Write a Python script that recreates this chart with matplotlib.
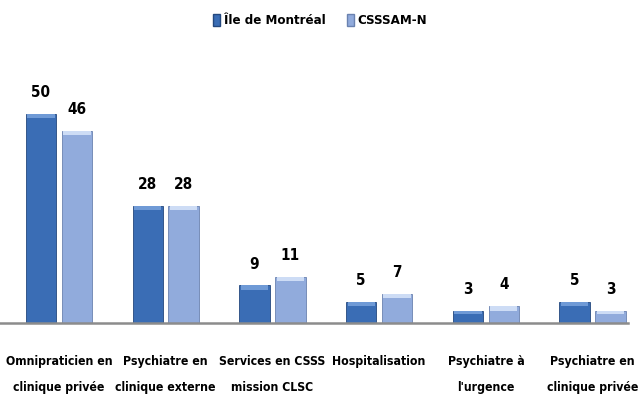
import numpy as np
import matplotlib
matplotlib.use("Agg")
import matplotlib.pyplot as plt
from matplotlib.patches import Patch

plt.rcParams['font.family'] = ['DejaVu Sans Condensed', 'DejaVu Sans']
plt.rcParams['font.stretch'] = 'condensed'

# Data
categories = ["Omnipraticien en\nclinique privée", "Psychiatre en\nclinique externe",
              "Services en CSSS\nmission CLSC", "Hospitalisation",
              "Psychiatre à\nl'urgence", "Psychiatre en\nclinique privée"]
series_names = ["Île de Montréal", "CSSSAM-N"]
montreal = [50, 28, 9, 5, 3, 5]
csssam = [46, 28, 11, 7, 4, 3]

dark = "#3a6db5"
dark_top = "#6f9ad6"
light = "#91abdc"
light_top = "#cddcf5"

fig = plt.figure(figsize=(6.4, 4.11), dpi=100)
ax = fig.add_axes([0.0, 0.214, 0.981, 0.64])

x = np.arange(len(categories))
w = 0.285
off = 0.168

for vals, xo, fc, tc, ec in [(montreal, -off, dark, dark_top, "#24487e"),
                             (csssam, off, light, light_top, "#6a82b0")]:
    vals = np.array(vals, dtype=float)
    ax.bar(x + xo, vals, w, color=fc, edgecolor=ec, linewidth=0.6, zorder=2)
    # top bevel highlight
    hl = np.minimum(1.0, vals * 0.3)
    ax.bar(x + xo, hl, w * 0.9, bottom=vals - hl, color=tc, linewidth=0, zorder=3)
    for xi, v in zip(x + xo, vals):
        ax.annotate(f"{int(v)}", (xi, v), xytext=(0, 10), textcoords="offset points",
                    ha="center", va="bottom", fontsize=11, fontweight="bold", color="black")

ax.set_xlim(-0.552, 5.33)
ax.set_ylim(0, 63)
ax.set_yticks([])
ax.set_xticks(x)
ax.set_xticklabels(categories, fontsize=8.8, fontweight="bold", linespacing=2.3)
ax.tick_params(axis="x", length=0, pad=23)
for s in ["top", "right", "left"]:
    ax.spines[s].set_visible(False)
ax.spines["bottom"].set_color("#8c8c8c")
ax.spines["bottom"].set_linewidth(1.8)

handles = [Patch(facecolor=dark, edgecolor="#24487e"), Patch(facecolor=light, edgecolor="#6a82b0")]
fig.legend(handles, series_names, loc="upper center", bbox_to_anchor=(0.5, 0.995), ncol=2,
           frameon=False, prop={"weight": "bold", "size": 9.5}, handlelength=0.55,
           handleheight=1.0, handletextpad=0.3, columnspacing=1.6)

fig.savefig("out.png", dpi=100)
